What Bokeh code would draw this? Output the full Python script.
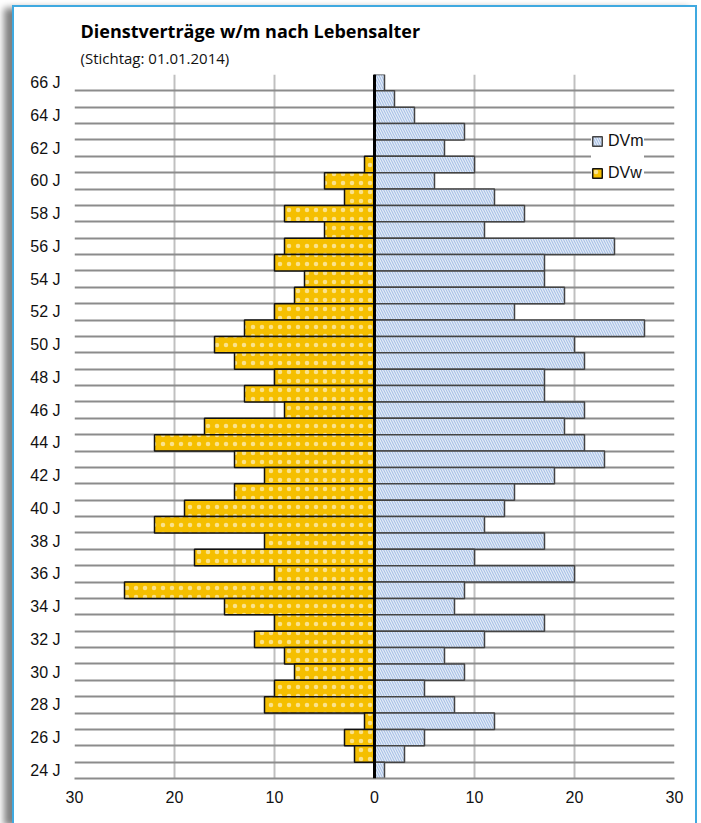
from bokeh.plotting import figure
from bokeh.models import (Range1d, FixedTicker, Title, Span, Legend, LegendItem)
from bokeh.embed import file_html
from bokeh.resources import INLINE

# ---- data ----
ages = list(range(66, 23, -1))
dvm = [1, 2, 4, 9, 7, 10, 6, 12, 15, 11, 24, 17, 17, 19, 14, 27, 20, 21, 17, 17, 21,
       19, 21, 23, 18, 14, 13, 11, 17, 10, 20, 9, 8, 17, 11, 7, 9, 5, 8, 12, 5, 3, 1]
dvw = [0, 0, 0, 0, 0, 1, 5, 3, 9, 5, 9, 10, 7, 8, 10, 13, 16, 14, 10, 13, 9,
       17, 22, 14, 11, 14, 19, 22, 11, 18, 10, 25, 15, 10, 12, 9, 8, 10, 11, 1, 3, 2, 0]
age_ticks = list(range(66, 23, -2))
age_labels = {a: f"{a} J" for a in age_ticks}
x_ticks = [-30, -20, -10, 0, 10, 20, 30]
x_labels = {t: str(abs(t)) for t in x_ticks}
title_text = "Dienstverträge w/m nach Lebensalter"
subtitle_text = "(Stichtag: 01.01.2014)"

FONT = "Liberation Sans"

p = figure(width=685, height=818, output_backend="svg", toolbar_location=None,
           title=None,
           x_range=Range1d(-30, 30), y_range=Range1d(23.5, 66.5),
           min_border_left=60, min_border_right=25, min_border_top=67, min_border_bottom=47,
           background_fill_color="white", border_fill_color="white",
           outline_line_color=None)
p.styles = {"margin-left": "12px", "margin-top": "5px",
            "border": "2px solid #3FA9E0", "border-bottom": "none",
            "box-sizing": "border-box",
            "box-shadow": "-8px 3px 7px rgba(0,0,0,0.5)"}

# grids
p.ygrid.ticker = FixedTicker(ticks=[a + 0.5 for a in range(23, 67)])
p.ygrid.grid_line_color = "#8c8c8c"
p.ygrid.grid_line_width = 2
p.xgrid.ticker = FixedTicker(ticks=[-30, -20, -10, 10, 20, 30])
p.xgrid.grid_line_color = "#c0c0c0"
p.xgrid.grid_line_width = 2

# bars
rw = p.hbar(y=ages, left=[-v for v in dvw], right=0, height=1,
            fill_color="#F5BF00", line_color="#111111", line_width=1.5,
            hatch_pattern="dot", hatch_color="white", hatch_alpha=0.55,
            hatch_scale=9, hatch_weight=0.8)
rm = p.hbar(y=ages, left=0, right=dvm, height=1,
            fill_color="#A8C1E6", line_color="#444444", line_width=1.5,
            hatch_pattern="left_diagonal_line", hatch_color="white", hatch_alpha=0.7,
            hatch_scale=5, hatch_weight=1.2)

# center line
p.add_layout(Span(location=0, dimension="height", line_color="black", line_width=3))

# axes
p.yaxis.ticker = FixedTicker(ticks=age_ticks)
p.yaxis.major_label_overrides = age_labels
p.yaxis.axis_line_color = None
p.yaxis.major_tick_line_color = None
p.yaxis.major_tick_out = 0
p.yaxis.minor_tick_line_color = None
p.yaxis.minor_tick_out = 0
p.yaxis.major_label_standoff = 14
p.yaxis.major_label_text_font = FONT
p.yaxis.major_label_text_font_size = "16px"
p.yaxis.major_label_text_color = "#111111"

p.xaxis.ticker = FixedTicker(ticks=x_ticks)
p.xaxis.major_label_overrides = x_labels
p.xaxis.axis_line_color = "#8c8c8c"
p.xaxis.axis_line_width = 2
p.xaxis.major_tick_line_color = None
p.xaxis.major_tick_out = 0
p.xaxis.minor_tick_line_color = None
p.xaxis.minor_tick_out = 0
p.xaxis.major_label_standoff = 12
p.xaxis.major_label_text_font = FONT
p.xaxis.major_label_text_font_size = "16px"
p.xaxis.major_label_text_color = "#111111"

# titles (first added sits nearest to the plot frame)
sub = Title(text=subtitle_text, align="left", offset=6, standoff=10, vertical_align="top",
            text_font="Open Sans", text_font_size="15px", text_font_style="normal",
            text_color="#111111")
main = Title(text=title_text, align="left", offset=6, standoff=0,
             text_font="Open Sans", text_font_size="18px", text_font_style="bold",
             text_color="#000000")
p.add_layout(sub, "above")
p.add_layout(main, "above")

# legend
legend = Legend(items=[LegendItem(label="DVm", renderers=[rm]),
                       LegendItem(label="DVw", renderers=[rw])],
                location=(517, 595), orientation="vertical",
                background_fill_color="white", background_fill_alpha=1,
                border_line_color=None, glyph_width=12, glyph_height=12,
                label_height=20, spacing=12, padding=12, margin=0,
                label_text_font=FONT, label_text_font_size="16px",
                label_text_color="#111111", label_standoff=5)
p.add_layout(legend)

open("out.html", "w").write(file_html(p, INLINE))
